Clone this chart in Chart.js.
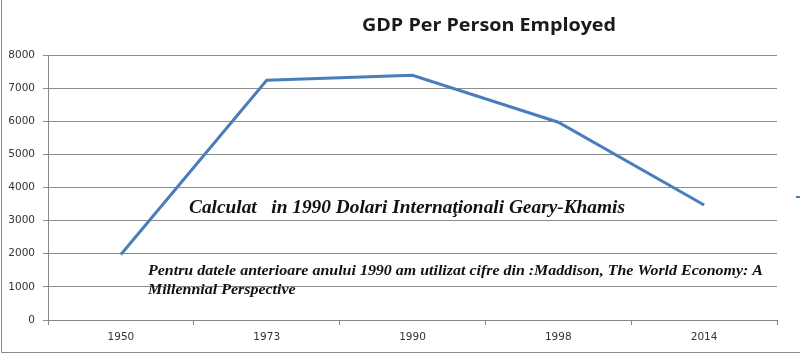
<!DOCTYPE html>
<html>
<head>
<meta charset="utf-8">
<script src="https://cdn.jsdelivr.net/npm/chart.js@4/dist/chart.umd.min.js"></script>
<style>
  html, body { margin: 0; padding: 0; background: #fff; }
  #wrap { width: 800px; height: 356px; position: relative; }
</style>
</head>
<body>
<div id="wrap"><canvas id="c" width="800" height="356"></canvas></div>
<script>
const categories = ['1950', '1973', '1990', '1998', '2014'];
const gdpPerPersonEmployed = [1980, 7240, 7390, 5970, 3470];
const yTicks = [0, 1000, 2000, 3000, 4000, 5000, 6000, 7000, 8000];
const titleText = 'GDP Per Person Employed';
const noteLine1 = 'Calculat   in 1990 Dolari Internaţionali Geary-Khamis';
const noteLine2 = ['Pentru datele anterioare anului 1990 am utilizat cifre din :Maddison, The World Economy: A', 'Millennial Perspective'];

function fitText(ctx, text, x, y, targetW) {
  const w = ctx.measureText(text).width;
  const k = targetW / w;
  ctx.save();
  ctx.translate(x, y);
  ctx.scale(k, 1);
  ctx.fillText(text, 0, 0);
  ctx.restore();
  return k;
}

const decor = {
  id: 'decor',
  afterDraw(chart) {
    const ctx = chart.ctx;
    ctx.save();
    // frame
    ctx.strokeStyle = '#8a8a8a';
    ctx.lineWidth = 1;
    ctx.beginPath();
    ctx.moveTo(1.5, 0); ctx.lineTo(1.5, 352.5); ctx.lineTo(800, 352.5);
    ctx.stroke();
    // title
    ctx.fillStyle = '#1a1a1a';
    ctx.font = 'bold 18px "Open Sans"';
    ctx.textAlign = 'left';
    ctx.textBaseline = 'alphabetic';
    fitText(ctx, titleText, 362, 31, 254);
    // notes
    ctx.fillStyle = '#111';
    ctx.font = 'italic bold 19px "Liberation Serif"';
    fitText(ctx, noteLine1, 189, 213, 436);
    ctx.font = 'italic bold 14.5px "Liberation Serif"';
    const k = fitText(ctx, noteLine2[0], 148, 275, 615);
    ctx.save();
    ctx.translate(148, 294);
    ctx.scale(k, 1);
    ctx.fillText(noteLine2[1], 0, 0);
    ctx.restore();
    // legend stub on right edge
    ctx.strokeStyle = '#4A7EBB';
    ctx.lineWidth = 2;
    ctx.beginPath();
    ctx.moveTo(796, 197); ctx.lineTo(800, 197);
    ctx.stroke();
    ctx.restore();
  }
};

new Chart(document.getElementById('c'), {
  type: 'line',
  data: {
    labels: categories,
    datasets: [{
      label: titleText,
      data: gdpPerPersonEmployed,
      borderColor: '#4A7EBB',
      borderWidth: 3,
      pointRadius: 0,
      tension: 0,
      fill: false
    }]
  },
  options: {
    responsive: false,
    animation: false,
    devicePixelRatio: 1,
    layout: { padding: { left: 0, right: 23, top: 55, bottom: 0 } },
    plugins: { legend: { display: false }, title: { display: false }, tooltip: { enabled: false } },
    scales: {
      x: {
        type: 'category',
        offset: true,
        grid: { display: true, drawOnChartArea: false, drawTicks: true, tickLength: 5, color: '#868686', offset: true },
        border: { display: true, color: '#868686', width: 1 },
        ticks: { color: '#333', font: { family: 'DejaVu Sans', size: 10.5 }, padding: 6, maxRotation: 0 },
        afterFit(s) { s.height = 36; }
      },
      y: {
        min: 0,
        max: 8000,
        afterBuildTicks(s) { s.ticks = yTicks.map(v => ({ value: v })); },
        grid: { color: '#8c8c8c', lineWidth: 1, drawTicks: true, tickLength: 5 },
        border: { display: true, color: '#868686', width: 1 },
        ticks: { color: '#333', font: { family: 'DejaVu Sans', size: 10.5 }, padding: 8, callback: v => String(v) },
        afterFit(s) { s.width = 48; }
      }
    }
  },
  plugins: [decor]
});
</script>
</body>
</html>
